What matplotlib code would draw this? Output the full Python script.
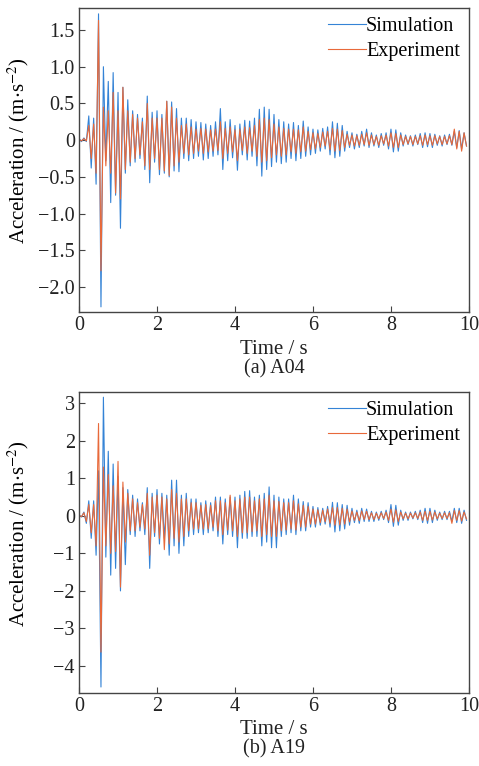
import numpy as np
import matplotlib
matplotlib.use('Agg')
import matplotlib.pyplot as plt
from matplotlib.ticker import FuncFormatter, MultipleLocator

plt.rcParams['font.family'] = ['Liberation Serif', 'DejaVu Serif']
plt.rcParams['font.size'] = 14.5
plt.rcParams['mathtext.fontset'] = 'stix'

# Successive peaks / troughs, one every half-period (0.0625 s)
half_period = 0.0625

a04_sim = [
    0.02, -0.02, 0.03, -0.02, 0.33, -0.38, 0.30, -0.60,
    1.72, -2.27, 1.00, -0.28, 0.80, -0.85, 0.92, -0.75,
    0.65, -1.20, 0.72, -0.45, 0.55, -0.35, 0.40, -0.30,
    0.35, -0.25, 0.30, -0.40, 0.60, -0.58, 0.38, -0.30,
    0.40, -0.47, 0.35, -0.45, 0.53, -0.50, 0.52, -0.42,
    0.43, -0.43, 0.30, -0.25, 0.30, -0.28, 0.28, -0.25,
    0.25, -0.22, 0.24, -0.27, 0.22, -0.25, 0.20, -0.22,
    0.25, -0.20, 0.43, -0.40, 0.25, -0.28, 0.28, -0.24,
    0.20, -0.41, 0.22, -0.20, 0.27, -0.27, 0.26, -0.22,
    0.30, -0.35, 0.42, -0.49, 0.45, -0.40, 0.42, -0.36,
    0.35, -0.30, 0.28, -0.32, 0.25, -0.30, 0.22, -0.25,
    0.24, -0.28, 0.20, -0.25, 0.26, -0.22, 0.18, -0.20,
    0.15, -0.18, 0.14, -0.15, 0.16, -0.12, 0.18, -0.20,
    0.25, -0.24, 0.23, -0.22, 0.20, -0.15, 0.12, -0.10,
    0.10, -0.12, 0.08, -0.10, 0.12, -0.08, 0.15, -0.10,
    0.10, -0.08, 0.07, -0.10, 0.09, -0.07, 0.10, -0.12,
    0.15, -0.16, 0.14, -0.15, 0.10, -0.08, 0.07, -0.06,
    0.06, -0.08, 0.07, -0.06, 0.09, -0.10, 0.10, -0.09,
    0.09, -0.10, 0.08, -0.07, 0.06, -0.08, 0.07, -0.06,
    0.08, -0.07, 0.12, -0.10, 0.13, -0.12, 0.10, -0.08,
]
a04_exp = [
    0.01, -0.01, 0.02, -0.01, 0.20, -0.25, 0.22, -0.45,
    1.63, -1.78, 0.45, -0.35, 0.40, -0.45, 0.65, -0.72,
    0.40, -0.80, 0.72, -0.40, 0.40, -0.30, 0.35, -0.25,
    0.30, -0.20, 0.25, -0.35, 0.50, -0.40, 0.30, -0.25,
    0.30, -0.40, 0.30, -0.42, 0.53, -0.48, 0.45, -0.35,
    0.30, -0.30, 0.20, -0.18, 0.22, -0.20, 0.18, -0.18,
    0.15, -0.15, 0.16, -0.18, 0.15, -0.16, 0.14, -0.15,
    0.15, -0.14, 0.25, -0.25, 0.16, -0.18, 0.18, -0.16,
    0.14, -0.28, 0.15, -0.14, 0.18, -0.18, 0.17, -0.15,
    0.20, -0.22, 0.28, -0.30, 0.30, -0.28, 0.28, -0.24,
    0.22, -0.20, 0.18, -0.22, 0.16, -0.20, 0.15, -0.16,
    0.15, -0.18, 0.14, -0.16, 0.18, -0.15, 0.12, -0.13,
    0.10, -0.12, 0.09, -0.10, 0.11, -0.08, 0.12, -0.13,
    0.16, -0.15, 0.15, -0.14, 0.13, -0.10, 0.08, -0.07,
    0.07, -0.08, 0.06, -0.07, 0.08, -0.06, 0.10, -0.07,
    0.07, -0.06, 0.05, -0.07, 0.06, -0.05, 0.07, -0.08,
    0.10, -0.10, 0.09, -0.10, 0.07, -0.06, 0.05, -0.05,
    0.05, -0.06, 0.05, -0.05, 0.06, -0.07, 0.07, -0.06,
    0.06, -0.07, 0.06, -0.05, 0.05, -0.06, 0.05, -0.05,
    0.06, -0.06, 0.15, -0.12, 0.12, -0.15, 0.10, -0.08,
]
a19_sim = [
    0.02, -0.03, 0.10, -0.20, 0.40, -0.60, 0.40, -1.05,
    1.20, -4.56, 3.16, -1.10, 1.72, -1.58, 1.38, -1.40,
    1.05, -2.00, 0.75, -1.30, 0.70, -0.50, 0.55, -0.55,
    0.45, -0.40, 0.35, -0.50, 0.75, -1.40, 0.60, -0.55,
    0.70, -0.75, 0.60, -0.60, 0.55, -1.05, 0.95, -0.80,
    0.95, -1.00, 0.55, -0.80, 0.60, -0.55, 0.45, -0.50,
    0.45, -0.45, 0.35, -0.50, 0.40, -0.45, 0.35, -0.40,
    0.50, -0.55, 0.50, -0.75, 0.45, -0.50, 0.50, -0.55,
    0.50, -0.85, 0.55, -0.60, 0.65, -0.60, 0.67, -0.55,
    0.50, -0.55, 0.55, -0.80, 0.60, -0.70, 0.77, -0.85,
    0.55, -0.85, 0.50, -0.55, 0.45, -0.50, 0.45, -0.45,
    0.55, -0.50, 0.45, -0.40, 0.38, -0.40, 0.35, -0.30,
    0.25, -0.30, 0.22, -0.25, 0.20, -0.22, 0.25, -0.30,
    0.36, -0.43, 0.35, -0.40, 0.30, -0.35, 0.28, -0.25,
    0.20, -0.18, 0.15, -0.20, 0.20, -0.15, 0.18, -0.15,
    0.12, -0.15, 0.10, -0.12, 0.12, -0.10, 0.15, -0.18,
    0.30, -0.28, 0.28, -0.25, 0.15, -0.12, 0.10, -0.12,
    0.10, -0.08, 0.12, -0.10, 0.15, -0.18, 0.20, -0.20,
    0.20, -0.18, 0.15, -0.12, 0.10, -0.10, 0.12, -0.10,
    0.12, -0.15, 0.20, -0.18, 0.20, -0.20, 0.15, -0.12,
]
a19_exp = [
    0.01, -0.02, 0.08, -0.15, 0.30, -0.45, 0.30, -0.80,
    2.46, -3.63, 1.30, -0.80, 1.10, -1.00, 0.80, -0.95,
    1.45, -1.90, 0.90, -0.70, 0.60, -0.40, 0.45, -0.40,
    0.35, -0.30, 0.30, -0.35, 0.60, -1.05, 0.50, -0.45,
    0.55, -0.60, 0.50, -0.90, 0.45, -0.75, 0.70, -0.60,
    0.60, -0.70, 0.45, -0.55, 0.45, -0.40, 0.35, -0.35,
    0.35, -0.35, 0.28, -0.35, 0.30, -0.35, 0.28, -0.30,
    0.40, -0.40, 0.40, -0.50, 0.35, -0.38, 0.55, -0.40,
    0.40, -0.55, 0.45, -0.45, 0.50, -0.45, 0.50, -0.42,
    0.40, -0.40, 0.45, -0.55, 0.45, -0.50, 0.55, -0.55,
    0.40, -0.55, 0.38, -0.40, 0.35, -0.38, 0.35, -0.35,
    0.40, -0.38, 0.32, -0.30, 0.28, -0.30, 0.25, -0.22,
    0.18, -0.22, 0.16, -0.18, 0.15, -0.16, 0.18, -0.20,
    0.22, -0.25, 0.22, -0.24, 0.20, -0.22, 0.18, -0.16,
    0.13, -0.12, 0.10, -0.13, 0.13, -0.10, 0.12, -0.10,
    0.08, -0.10, 0.07, -0.08, 0.08, -0.07, 0.10, -0.12,
    0.18, -0.17, 0.16, -0.15, 0.10, -0.08, 0.07, -0.08,
    0.07, -0.06, 0.08, -0.07, 0.10, -0.12, 0.12, -0.12,
    0.12, -0.11, 0.10, -0.08, 0.07, -0.07, 0.08, -0.07,
    0.08, -0.20, 0.14, -0.12, 0.14, -0.14, 0.10, -0.08,
]

panels = [
    ('(a) A04', a04_sim, a04_exp, (-2.34, 1.80), 0.5),
    ('(b) A19', a19_sim, a19_exp, (-4.72, 3.30), 1.0),
]

blue = '#3483d6'
orange = '#e8693a'
spine_col = '#444444'
fs = 14.5

fig = plt.figure(figsize=(4.79, 7.66), dpi=100)
boxes = [[0.165, 0.5927, 0.814, 0.3969], [0.165, 0.0953, 0.814, 0.3930]]
xlabel_y = [0.5440, 0.0480]
caption_y = [0.5180, 0.0225]


def make_fmt(step):
    def f(v, pos):
        if abs(v) < 1e-9:
            return '0'
        s = f'{v:.1f}' if step == 0.5 else f'{v:.0f}'
        return s.replace('-', '\u2212')
    return FuncFormatter(f)


for i, ((caption, sim, exp, ylim, step), box) in enumerate(zip(panels, boxes)):
    ax = fig.add_axes(box)
    t = np.arange(len(sim)) * half_period
    ax.plot(t, sim, color=blue, lw=0.8, label='Simulation')
    ax.plot(t, exp, color=orange, lw=0.8, label='Experiment')
    ax.set_xlim(0, 10)
    ax.set_ylim(*ylim)
    ax.xaxis.set_major_locator(MultipleLocator(2))
    ax.yaxis.set_major_locator(MultipleLocator(step))
    ax.yaxis.set_major_formatter(make_fmt(step))
    ax.tick_params(direction='in', length=4, width=0.8, pad=3, colors=spine_col,
                   labelcolor='#222222', labelsize=fs)
    for sp in ax.spines.values():
        sp.set_color(spine_col)
        sp.set_linewidth(1.0)
    ax.set_ylabel('Acceleration / (m$\\cdot$s$^{-2}$)', fontsize=15)
    ax.yaxis.set_label_coords(-0.122, 0.53)
    ax.legend(loc='upper right', frameon=False, fontsize=fs, handlelength=1.9,
              handletextpad=0.0, borderaxespad=0.25, labelspacing=0.3,
              borderpad=0.2)
    fig.text(0.572, xlabel_y[i], 'Time / s', ha='center', va='center', fontsize=15, color='#222222')
    fig.text(0.572, caption_y[i], caption, ha='center', va='center', fontsize=fs, color='#222222')

fig.savefig('out.png', dpi=100)
